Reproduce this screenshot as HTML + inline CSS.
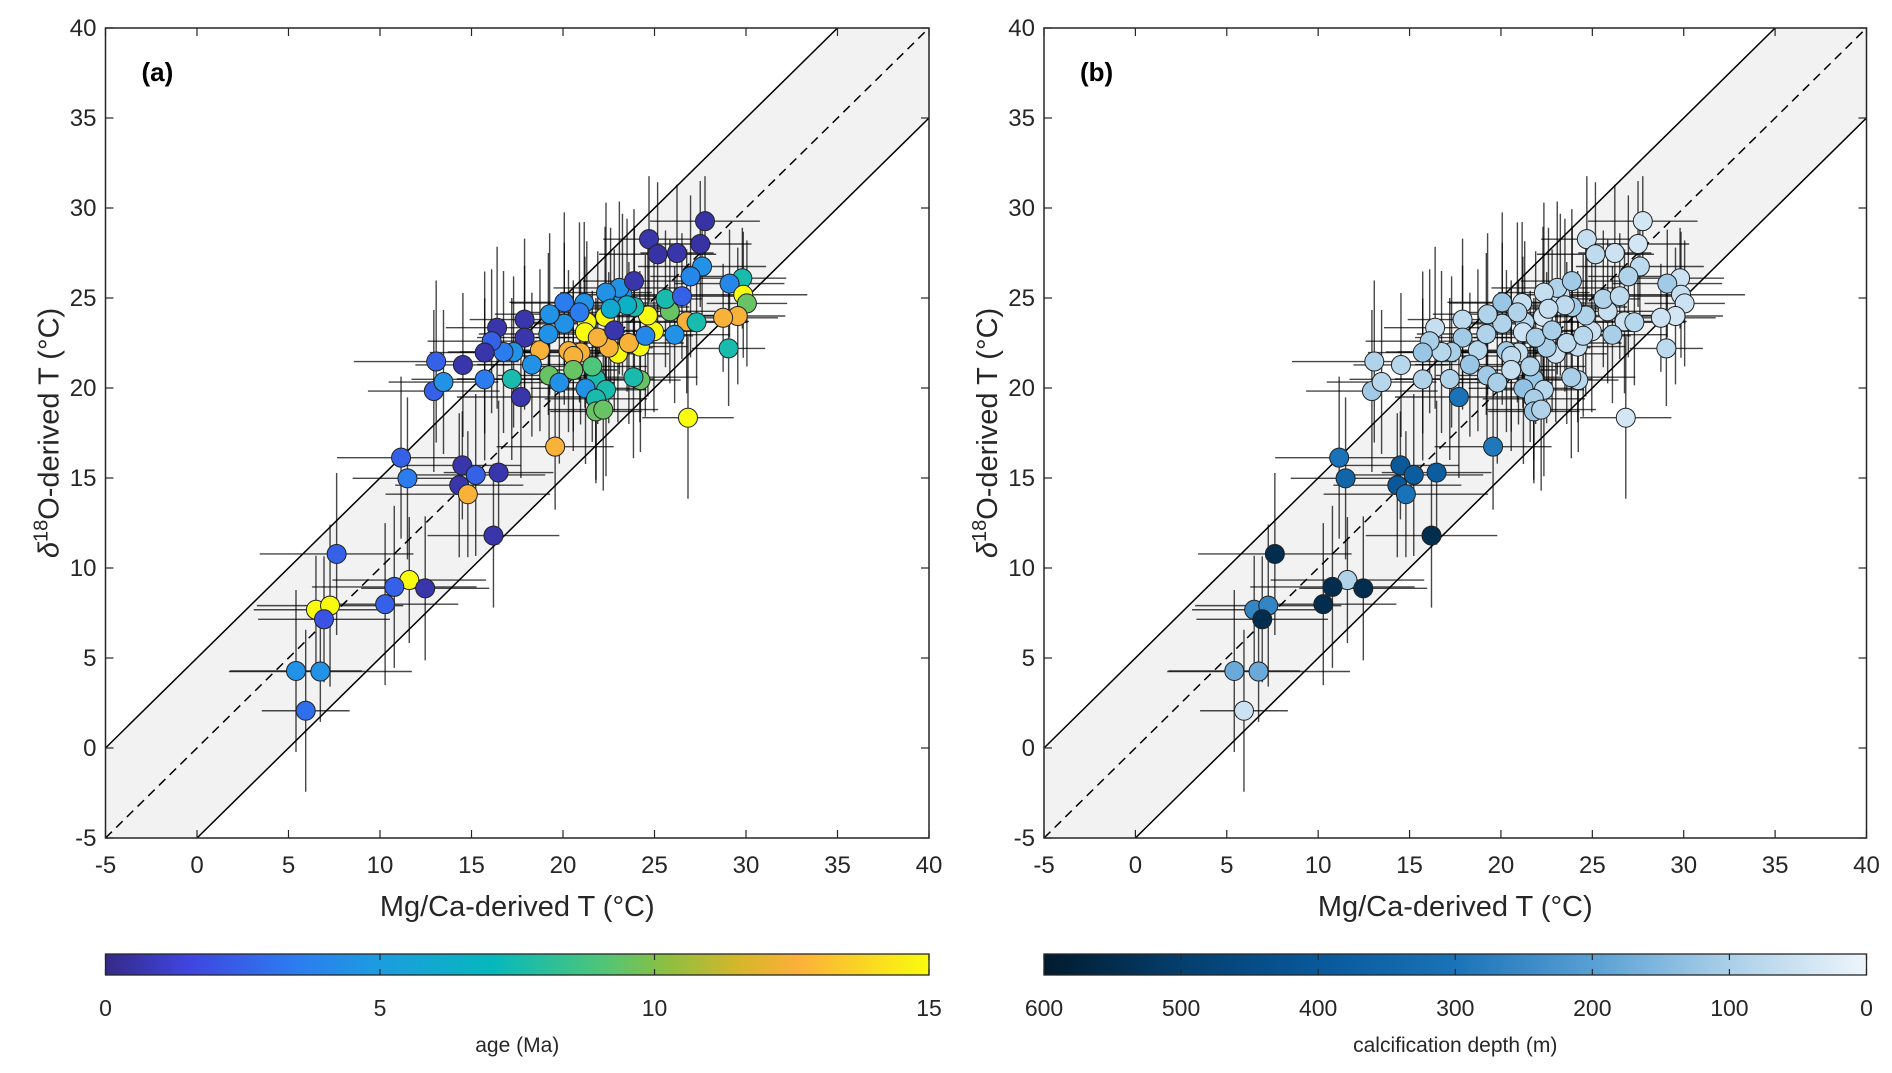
<!DOCTYPE html>
<html><head><meta charset="utf-8"><style>
body{margin:0;background:#fff;}
svg{display:block;font-family:"Liberation Sans",sans-serif;}
</style></head><body>
<svg id="fig" width="1892" height="1073" viewBox="0 0 1892 1073">
<defs>
<linearGradient id="parula" x1="0" x2="1" y1="0" y2="0">
<stop offset="0" stop-color="#352a87"/><stop offset="0.1" stop-color="#3f45e0"/><stop offset="0.23" stop-color="#2c7cf0"/><stop offset="0.33" stop-color="#1c9ce0"/><stop offset="0.47" stop-color="#06b8bc"/><stop offset="0.6" stop-color="#4dc57a"/><stop offset="0.68" stop-color="#8cbf42"/><stop offset="0.77" stop-color="#d6b62a"/><stop offset="0.84" stop-color="#fbb03a"/><stop offset="1" stop-color="#f9fb0e"/>
</linearGradient>
<linearGradient id="blues" x1="0" x2="1" y1="0" y2="0">
<stop offset="0" stop-color="#021b2e"/><stop offset="0.17" stop-color="#043f6e"/><stop offset="0.33" stop-color="#08589a"/><stop offset="0.5" stop-color="#1a73b8"/><stop offset="0.67" stop-color="#5aa0d4"/><stop offset="0.83" stop-color="#a9cfe8"/><stop offset="1" stop-color="#eef5fb"/>
</linearGradient>
<clipPath id="clipA"><rect x="105.5" y="28" width="823.5" height="810"/></clipPath>
<clipPath id="clipB"><rect x="1044" y="28" width="822.5" height="810"/></clipPath>
</defs>
</svg>
<script>
const mgT  = [27.76,24.7,25.17,26.23,27.5,27.6,26.97,29.8,29.1,29.85,30.05,29.55,28.75,29.05,26.83,26.76,27.3,26.1,24.97,24.64,25.84,25.6,26.5,23.9,24.2,24.23,23.85,23.0,23.6,22.5,22.3,23.25,23.08,22.35,23.88,21.3,21.2,21.9,21.16,20.07,20.07,20.96,20.3,20.56,18.74,19.24,19.8,20.56,21.8,22.35,21.23,21.8,21.8,22.2,19.57,19.2,17.9,17.9,17.7,17.2,17.3,16.75,18.3,16.4,16.1,15.72,15.72,14.53,13.07,12.94,13.47,11.15,11.5,14.5,14.33,15.23,14.8,16.48,16.2,7.63,11.6,10.78,12.47,10.28,6.5,7.27,6.94,5.41,6.74,5.94,19.27,23.5,22.8,21.6,24.5,20.9,22.6];
const d18T = [29.27,28.27,27.43,27.5,28.0,26.75,26.2,26.1,25.8,25.18,24.7,24.0,23.9,22.2,18.35,23.7,23.65,22.96,23.15,24.03,24.26,24.95,25.1,24.5,22.3,20.44,20.6,21.9,22.5,22.24,23.96,25.18,25.56,25.3,25.94,23.65,23.1,22.8,24.72,24.76,23.57,21.97,22.05,21.78,22.1,20.7,20.3,21.0,20.5,19.9,19.98,19.4,18.7,18.8,16.74,23.0,23.8,22.8,19.5,20.5,22.0,22.0,21.3,23.35,22.6,21.97,20.48,21.28,21.47,19.83,20.33,16.13,14.98,15.7,14.6,15.17,14.1,15.3,11.8,10.78,9.33,8.95,8.87,7.99,7.68,7.91,7.15,4.28,4.25,2.07,24.1,24.6,23.2,21.2,22.9,24.2,24.4];
const xErr = [3.0,2.5,3.2,2.0,2.8,3.5,2.2,2.4,3.0,3.5,2.2,2.6,3.0,2.0,2.5,3.4,2.8,3.0,2.2,3.6,2.5,2.0,3.2,3.0,2.6,2.2,3.5,2.8,3.0,2.4,3.2,2.0,3.6,2.5,2.8,3.0,2.2,3.4,4.0,3.0,2.6,3.2,2.5,3.0,3.5,2.8,3.0,2.4,3.2,2.2,3.0,2.8,2.5,3.0,3.2,3.8,3.0,2.6,3.5,3.0,3.6,2.4,3.0,2.8,3.5,3.0,4.0,2.6,4.5,3.6,3.0,3.5,3.0,3.2,3.5,3.8,4.5,3.0,3.6,4.2,4.2,4.5,3.5,4.0,3.4,4.0,3.6,3.6,5.0,2.4,3.0,2.8,3.2,3.0,2.6,3.0,2.8];
const yErr = [2.5,3.5,4.0,3.8,3.5,3.0,4.5,2.8,3.0,3.5,3.5,3.8,3.0,3.2,4.5,4.0,3.5,3.8,4.5,4.5,4.0,3.8,3.5,4.5,4.2,4.0,4.5,3.8,4.5,4.2,5.0,4.5,4.8,5.0,4.0,4.5,4.2,4.8,4.5,5.0,4.5,4.0,4.5,4.2,4.5,4.0,4.5,4.5,4.5,4.8,4.2,4.5,4.0,4.5,3.5,4.5,4.5,4.0,4.5,4.5,4.2,4.5,4.0,4.5,4.0,4.5,4.5,4.0,4.5,4.5,4.0,4.5,4.5,3.0,4.0,4.5,3.5,4.0,4.0,4.5,3.5,4.5,4.0,4.5,3.0,4.5,3.5,4.5,2.8,4.5,4.5,4.8,4.5,4.2,4.5,5.0,4.5];
const age  = [0.5,0.6,0.5,0.6,0.5,4.5,4.0,7.5,4.0,15,9.5,12.5,12.5,7.5,15,12.5,7.5,4.5,15,15,9.5,7.5,2.5,7.5,15,9.5,7.5,15,12.5,12.5,15,4.5,4.5,4.5,0.6,15,15,12.5,4.5,3.5,4.5,12.5,12.5,12.5,12.5,9.5,4.5,9.5,7.5,7.5,4.5,7.5,9.5,9.5,12.5,4.5,0.6,0.6,0.6,7.5,4.5,3.5,4.5,0.6,2.5,0.6,3.5,0.6,2.5,2.5,4.5,2.5,3.5,0.6,0.6,2.5,12.5,0.6,0.6,2.5,15,2.5,0.6,2.5,15,15,2.0,4.5,4.5,3.0,4.5,6.5,0.6,9.0,4.0,3.5,6.0];
const depth= [40,60,70,50,40,70,90,50,110,60,50,40,50,70,40,50,80,100,50,90,60,90,70,110,60,80,100,50,70,100,40,60,90,60,110,80,50,100,60,120,90,60,110,70,80,110,100,60,120,80,130,100,120,90,290,90,70,110,300,90,100,80,120,60,100,120,90,80,90,110,80,300,350,400,400,380,300,380,550,550,90,550,550,550,260,260,550,180,180,50,90,70,100,90,80,90,60];

const parStops=[[0,[53,42,135]],[1.5,[63,69,224]],[3.45,[44,124,240]],[5,[28,156,224]],[7,[6,184,188]],[9,[77,197,122]],[10.2,[140,191,66]],[11.5,[214,182,42]],[12.6,[251,176,58]],[15,[249,251,14]]];
const bluStops=[[0,[238,245,251]],[100,[169,207,232]],[200,[90,160,212]],[300,[26,115,184]],[400,[8,88,154]],[500,[4,63,110]],[600,[2,27,46]]];
function interp(stops,v){v=Math.max(stops[0][0],Math.min(stops[stops.length-1][0],v));
 for(let i=0;i<stops.length-1;i++){const a=stops[i],b=stops[i+1];if(v<=b[0]){const t=(v-a[0])/(b[0]-a[0]);
 const c=a[1].map((x,k)=>Math.round(x+(b[1][k]-x)*t));return `rgb(${c})`;}}return `rgb(${stops[stops.length-1][1]})`;}

const svg=document.getElementById('fig');
const NS='http://www.w3.org/2000/svg';
function mk(tag,attrs,parent,text){const e=document.createElementNS(NS,tag);for(const k in attrs)e.setAttribute(k,attrs[k]);if(text!==undefined)e.textContent=text;(parent||svg).appendChild(e);return e;}

const ticks=[-5,0,5,10,15,20,25,30,35,40];
function panel(id,left,right,clip,colorFn,vals,label){
 const top=28,bot=838;
 const sx=v=>left+(v+5)/45*(right-left);
 const sy=v=>bot-(v+5)/45*(bot-top);
 const g=mk('g',{},svg);
 
 
 const c=mk('g',{'clip-path':'url(#'+clip+')'},g);
 const band=mk('polygon',{points:`${sx(-5)},${sy(0)} ${sx(35)},${sy(40)} ${sx(40)},${sy(40)} ${sx(40)},${sy(35)} ${sx(0)},${sy(-5)} ${sx(-5)},${sy(-5)}`,fill:'#f2f2f2'},c);
 
 
 const l1=mk('line',{x1:sx(-5),y1:sy(0),x2:sx(35),y2:sy(40),stroke:'#000','stroke-width':1.5},c);
 
 
 const l2=mk('line',{x1:sx(0),y1:sy(-5),x2:sx(40),y2:sy(35),stroke:'#000','stroke-width':1.5},c);
 
 
 const l3=mk('line',{x1:sx(-5),y1:sy(-5),x2:sx(40),y2:sy(40),stroke:'#000','stroke-width':1.5,'stroke-dasharray':'9,6'},c);
 
 
 const eb=mk('g',{stroke:'rgba(0,0,0,0.72)','stroke-width':1.4},c);
 for(let i=0;i<mgT.length;i++){
  const h=mk('line',{x1:sx(mgT[i]-xErr[i]),x2:sx(mgT[i]+xErr[i]),y1:sy(d18T[i]),y2:sy(d18T[i])},eb);
  
  
  const v=mk('line',{x1:sx(mgT[i]),x2:sx(mgT[i]),y1:sy(d18T[i]-yErr[i]),y2:sy(d18T[i]+yErr[i])},eb);
  
  
 }
 for(let i=0;i<mgT.length;i++){
  const p=mk('circle',{cx:sx(mgT[i]),cy:sy(d18T[i]),r:9.5,fill:colorFn(vals[i]),stroke:'#222','stroke-width':1},c);
  
  
 }
 const box=mk('rect',{x:left,y:top,width:right-left,height:bot-top,fill:'none',stroke:'#262626','stroke-width':1.5},g);
 
 
 for(const t of ticks){
  mk('line',{x1:sx(t),x2:sx(t),y1:bot,y2:bot-8,stroke:'#262626','stroke-width':1.2},g);
  mk('line',{x1:sx(t),x2:sx(t),y1:top,y2:top+8,stroke:'#262626','stroke-width':1.2},g);
  mk('line',{x1:left,x2:left+8,y1:sy(t),y2:sy(t),stroke:'#262626','stroke-width':1.2},g);
  mk('line',{x1:right,x2:right-8,y1:sy(t),y2:sy(t),stroke:'#262626','stroke-width':1.2},g);
  const xt=mk('text',{x:sx(t),y:873,'font-size':24,'text-anchor':'middle',fill:'#262626'},g,String(t));
  
  
  const yt=mk('text',{x:left-9,y:sy(t)+8,'font-size':24,'text-anchor':'end',fill:'#262626'},g,String(t));
  
  
 }
 const xt=mk('text',{x:(left+right)/2,y:916,'font-size':29,'text-anchor':'middle',fill:'#262626'},g,'Mg/Ca-derived T (°C)');
 
 
 const yt=mk('text',{transform:`translate(${left-47},433) rotate(-90)`,'font-size':29,'text-anchor':'middle',fill:'#262626'},g);
 
 
 mk('tspan',{'font-style':'italic'},yt,'δ');
 mk('tspan',{dy:-11,'font-size':20},yt,'18');
 mk('tspan',{dy:11},yt,'O-derived T (°C)');
 const pl=mk('text',{x:left+36,y:81,'font-size':26,'font-weight':'bold',fill:'#000'},g,label);
 
 
}
panel('a',105.5,929,'clipA',v=>interp(parStops,v),age,'(a)');
panel('b',1044,1866.5,'clipB',v=>interp(bluStops,v),depth,'(b)');

const cbTicksA=[0,5,10,15];
const cbTicksB=[600,500,400,300,200,100,0];
function colorbar(left,right,grad,tks,vmin,vmax,label,name){
 const g=mk('g',{},svg);
 
 
 mk('rect',{x:left,y:954,width:right-left,height:21,fill:`url(#${grad})`,stroke:'#262626','stroke-width':1.3},g);
 for(const t of tks){
  const x=left+(t-vmin)/(vmax-vmin)*(right-left);
  mk('line',{x1:x,x2:x,y1:975,y2:969,stroke:'#262626','stroke-width':1.2},g);
  mk('line',{x1:x,x2:x,y1:954,y2:960,stroke:'#262626','stroke-width':1.2},g);
  const tt=mk('text',{x:x,y:1016,'font-size':23,'text-anchor':'middle',fill:'#262626'},g,String(t));
  
  
 }
 const lb=mk('text',{x:(left+right)/2,y:1052,'font-size':21,'text-anchor':'middle',fill:'#262626'},g,label);
 
 
}
colorbar(105.5,929,'parula',cbTicksA,0,15,'age (Ma)','age-colorbar');
colorbar(1044,1866.5,'blues',cbTicksB,600,0,'calcification depth (m)','depth-colorbar');
</script>
</body></html>
